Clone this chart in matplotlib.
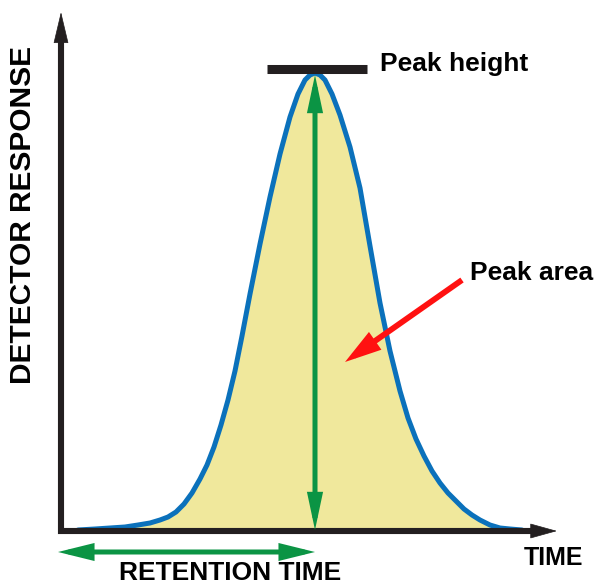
import matplotlib.pyplot as plt
from matplotlib.patches import FancyArrowPatch

# peak: time vs detector response (arbitrary units)
time = [17, 34, 49, 64, 77, 89, 99, 107, 115, 123,
        131, 139, 146, 153, 160, 167, 174, 181, 189, 199,
        209, 219, 229, 237, 244, 249, 254,
        259, 264, 271, 279, 289, 299, 309, 319, 329, 339,
        347, 355, 363, 371, 379, 387, 395, 403, 411, 419,
        429, 439, 449, 461]
response = [1, 2, 3, 4, 6, 8, 11, 14, 19, 27,
            38, 52, 66, 84, 106, 131, 160, 195, 237, 287,
            334, 377, 414, 437, 451, 456, 458,
            456, 451, 437, 416, 384, 343, 285, 228, 180, 140,
            113, 92, 75, 60, 48, 38, 30, 22, 16, 11,
            6, 3, 2, 1]

axis_labels = ["TIME", "DETECTOR RESPONSE"]
notes = ["Peak height", "Peak area", "RETENTION TIME"]

BLACK = "#231f20"
BLUE = "#0b71bb"
FILL = "#f0e89c"
GREEN = "#0b9444"
RED = "#ff1111"
FONT = "Liberation Sans"


def arrow(ax, start, end, color, lw, hl, hw, style="-|>", z=5):
    a = FancyArrowPatch(start, end, arrowstyle=f"{style},head_length={hl},head_width={hw}",
                        color=color, lw=lw, mutation_scale=1, shrinkA=0, shrinkB=0,
                        zorder=z, capstyle="butt", joinstyle="miter")
    ax.add_patch(a)


fig = plt.figure(figsize=(5.97, 5.86), dpi=100)
ax = fig.add_axes([0, 0, 1, 1])
ax.set_xlim(-61, 536)
ax.set_ylim(-55, 531)
ax.axis("off")

# peak
ax.fill_between(time, response, 0, color=FILL, lw=0, zorder=1)
ax.plot(time, response, color=BLUE, lw=3.6, zorder=3,
        solid_capstyle="round", solid_joinstyle="round")

i_peak = response.index(max(response))
peak_t, peak_r = time[i_peak], response[i_peak]

# axes with arrow heads
ax.plot([0, 0, 476], [495, 0, 0], color=BLACK, lw=4.4, solid_joinstyle="miter",
        solid_capstyle="projecting", zorder=4)
arrow(ax, (0, 490), (0, 519), BLACK, 0.5, 21, 5)
arrow(ax, (470, 0), (496, 0), BLACK, 0.5, 18, 5)

# peak height bar and arrow
ax.plot([peak_t - 48, peak_t + 52], [peak_r + 4.5, peak_r + 4.5], color=BLACK, lw=6.5,
        solid_capstyle="butt", zorder=4)
arrow(ax, (peak_t, 1), (peak_t, peak_r - 2), GREEN, 3.6, 17, 3.6, style="<|-|>")

# retention time arrow
arrow(ax, (-3, -21), (peak_t, -21), GREEN, 3.6, 17, 4.2, style="<|-|>")

# peak area arrow
arrow(ax, (401, 251), (284, 169), RED, 4.2, 17, 5)

ax.text(peak_t + 65, peak_r + 2, notes[0], fontsize=19, fontweight="bold",
        family=FONT, ha="left", va="baseline")
ax.text(409, 251, notes[1], fontsize=19, fontweight="bold",
        family=FONT, ha="left", va="baseline")
ax.text(169, -49, notes[2], fontsize=19, fontweight="bold",
        family=FONT, ha="center", va="baseline")
ax.text(492, -34, axis_labels[0], fontsize=18, fontweight="bold",
        family=FONT, ha="center", va="baseline")
ax.text(-38, 316, axis_labels[1], fontsize=21.5, fontweight="bold",
        family=FONT, ha="center", va="center", rotation=90)

fig.savefig("out.png", dpi=100)
